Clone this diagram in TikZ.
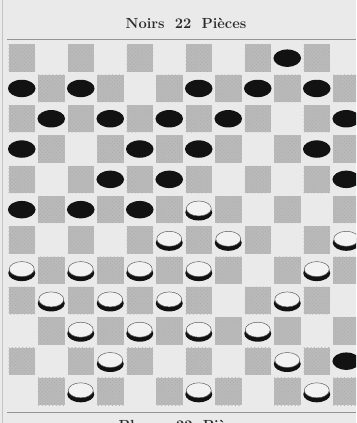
\documentclass[tikz,border=0pt]{standalone}
\usepackage{tikz}
\usetikzlibrary{calc, patterns}
\definecolor{paper}{RGB}{234, 234, 234}
\definecolor{shade}{RGB}{186, 186, 186}
\definecolor{ink}{RGB}{18, 18, 18}
\definecolor{disc}{RGB}{242, 242, 242}

\begin{document}
\begin{tikzpicture}[
  x=0.03cm, y=-0.03cm,
  square/.style={fill=shade},
  grain/.style={pattern=crosshatch dots, pattern color=ink!35},
  noir/.style={fill=ink},
  rim/.style={fill=ink},
  face/.style={fill=disc, draw=ink!70, line width=0.4pt},
  rule/.style={draw=ink!45, line width=0.8pt},
  title/.style={font=\bfseries\fontsize{12.5}{14}\selectfont, color=ink!90},
]

% Page and clipping
\useasboundingbox (0,0) rectangle (356,423);
\clip (0,0) rectangle (356,423);
\fill[paper] (0,0) rectangle (356,423);
\draw[ink!25, line width=0.6pt] (2,0) -- (2,423);

% Titles
\node[title] (noirs) at (186,23) {Noirs\hspace{0.7em}22\hspace{0.7em}Pi\`eces};
\node[title] (blancs) at (183,425) {Blancs\hspace{0.7em}22\hspace{0.7em}Pi\`eces};

% Board rules
\draw[rule] (7,39) -- (356,39);
\draw[rule] (7,412) -- (356,412);

% Shaded squares
\foreach \r in {0,...,11}
  \foreach \c in {0,...,11} {
    \pgfmathtruncatemacro\p{mod(\r+\c,2)}
    \ifnum\p=0
      \fill[square] ({7+29.5*\c+1.5},{43+30.3*\r+1.5}) rectangle ++(26.5,27.3);
      \fill[grain] ({7+29.5*\c+1.5},{43+30.3*\r+1.5}) rectangle ++(26.5,27.3);
    \fi
  }

% Black pieces (col/row)
\foreach \c/\r in {9/0, 0/1, 2/1, 6/1, 8/1, 10/1,
                   1/2, 3/2, 5/2, 7/2, 11/2,
                   0/3, 4/3, 6/3, 10/3,
                   3/4, 5/4, 11/4,
                   0/5, 2/5, 4/5, 11/10}
  \fill[noir] ({21.75+29.5*\c},{58.15+30.3*\r}) ellipse [x radius=13.8, y radius=8.7];

% White pieces (col/row)
\foreach \c/\r in {6/5, 5/6, 7/6, 11/6,
                   0/7, 2/7, 4/7, 6/7, 10/7,
                   1/8, 3/8, 5/8, 9/8,
                   2/9, 4/9, 6/9, 8/9,
                   3/10, 9/10, 2/11, 6/11, 10/11} {
  \fill[rim] ({21.75+29.5*\c},{61+30.3*\r}) ellipse [x radius=13.5, y radius=8];
  \filldraw[face] ({21.75+29.5*\c},{57+30.3*\r}) ellipse [x radius=12.5, y radius=7.5];
}

\end{tikzpicture}
\end{document}
